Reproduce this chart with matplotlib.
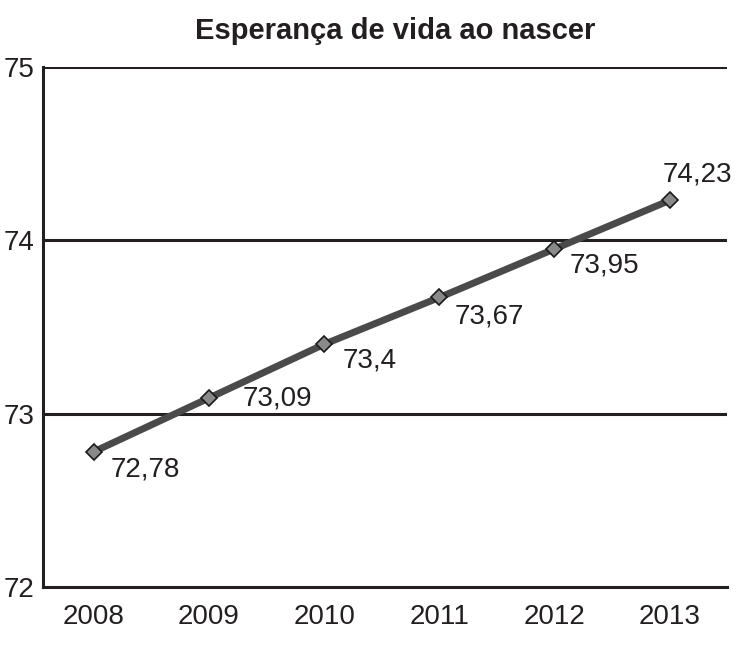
import matplotlib.pyplot as plt

plt.rcParams['font.family'] = ['Liberation Sans', 'DejaVu Sans']

# Data
anos = ['2008', '2009', '2010', '2011', '2012', '2013']
esperanca = [72.78, 73.09, 73.40, 73.67, 73.95, 74.23]
rotulos = ['72,78', '73,09', '73,4', '73,67', '73,95', '74,23']
y_ticks = [72, 73, 74, 75]

# label offsets in points (dx, dy)
offsets = [(12, -13), (24, 0), (13, -12), (11, -14), (11, -12), (-5, 19)]

fig = plt.figure(figsize=(7.56, 6.5), dpi=100)
ax = fig.add_axes([0.057, 0.097, 0.905, 0.8])

x = list(range(len(anos)))
ax.plot(x, esperanca, color='#4a4a4a', lw=5, solid_capstyle='butt', zorder=3)
ax.plot(x, esperanca, ls='none', marker='D', ms=8.5, mfc='#8a8a8a',
        mec='#1a1a1a', mew=1.2, zorder=4)

for xi, yi, lab, (dx, dy) in zip(x, esperanca, rotulos, offsets):
    ax.annotate(lab, (xi, yi), xytext=(dx, dy), textcoords='offset points',
                ha='left', va='center', fontsize=20, color='#231f20')

for yv in y_ticks[1:]:
    ax.axhline(yv, color='#231f20', lw=2.2, zorder=2)

ax.set_xlim(-0.44, 5.5)
ax.set_ylim(72, 75)
ax.set_xticks(x)
ax.set_xticklabels(anos)
ax.set_yticks(y_ticks)
ax.tick_params(length=0, labelsize=20, colors='#231f20')
ax.tick_params(axis='x', pad=12)
ax.tick_params(axis='y', pad=6)

for s in ['top', 'right']:
    ax.spines[s].set_visible(False)
for s in ['left', 'bottom']:
    ax.spines[s].set_linewidth(2.2)
    ax.spines[s].set_color('#231f20')

fig.text(0.523, 0.953, 'Esperança de vida ao nascer', ha='center', va='center',
         fontsize=21, fontweight='bold', color='#231f20')

fig.savefig('out.png', dpi=100)
